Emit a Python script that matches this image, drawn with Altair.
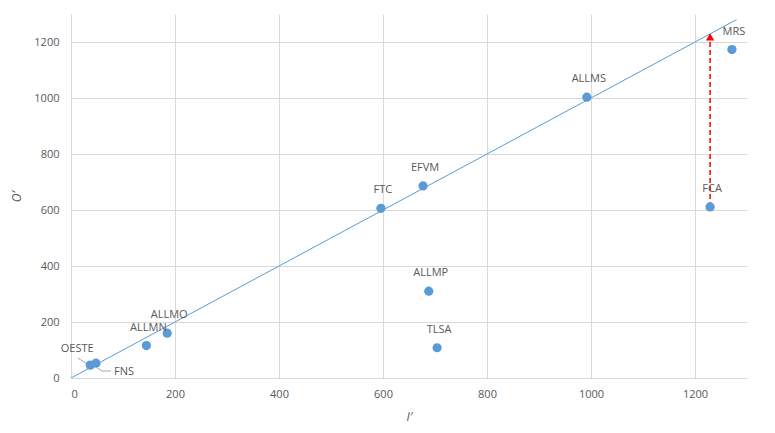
import altair as alt
import pandas as pd

names = ["OESTE", "FNS", "ALLMN", "ALLMO", "FTC", "EFVM", "ALLMP", "TLSA", "ALLMS", "FCA", "MRS"]
i_vals = [37, 48, 145, 185, 596, 677, 688, 704, 992, 1229, 1271]
o_vals = [46, 53, 116, 160, 606, 686, 310, 108, 1003, 611, 1173]

diag = [0, 1280]
arrow_x = [1229]
arrow_from = [611]
arrow_to = [1200]
arrow_tip = [1218]

FONT = "Open Sans"
BLUE = "#5b9bd5"
TXT = "#595959"

df = pd.DataFrame({"name": names, "i": i_vals, "o": o_vals})
main = df[~df["name"].isin(["OESTE", "FNS"])]
df_oeste = df[df["name"] == "OESTE"]
df_fns = df[df["name"] == "FNS"]
df_diag = pd.DataFrame({"i": diag, "o": diag})
df_arrow = pd.DataFrame({"i": arrow_x, "o": arrow_from, "o2": arrow_to, "tip": arrow_tip})

xs = alt.Scale(domain=[0, 1300], nice=False, zero=False)
ys = alt.Scale(domain=[0, 1300], nice=False, zero=False)

xax = alt.Axis(values=[0, 200, 400, 600, 800, 1000, 1200], title="I′", ticks=False, format="d",
               labelPadding=10, titlePadding=12, domainColor="#d9d9d9", gridColor="#d9d9d9")
yax = alt.Axis(values=[0, 200, 400, 600, 800, 1000, 1200], title="O′", ticks=False, format="d",
               labelPadding=12, titlePadding=10, domainColor="#d9d9d9", gridColor="#d9d9d9")

base = alt.Chart(df)

line = alt.Chart(df_diag).mark_line(color=BLUE, strokeWidth=1, clip=True).encode(
    x=alt.X("i:Q", scale=xs, axis=xax),
    y=alt.Y("o:Q", scale=ys, axis=yax),
)

arrow_line = alt.Chart(df_arrow).mark_rule(color="#ff0000", strokeDash=[5, 3], strokeWidth=1.5).encode(
    x=alt.X("i:Q", scale=xs), y=alt.Y("o:Q", scale=ys), y2="o2:Q"
)
arrow_head = alt.Chart(df_arrow).mark_point(shape="triangle-up", filled=True, color="#ff0000",
                                            size=70, opacity=1).encode(
    x=alt.X("i:Q", scale=xs), y=alt.Y("tip:Q", scale=ys)
)

pts = base.mark_circle(color=BLUE, size=85, opacity=1).encode(
    x=alt.X("i:Q", scale=xs), y=alt.Y("o:Q", scale=ys)
)

labels = alt.Chart(main).mark_text(font=FONT, fontSize=11, color=TXT, dy=-18, dx=2).encode(
    x=alt.X("i:Q", scale=xs), y=alt.Y("o:Q", scale=ys), text="name:N"
)
lab_oeste = alt.Chart(df_oeste).mark_text(font=FONT, fontSize=11, color=TXT, dx=-13, dy=-16).encode(
    x=alt.X("i:Q", scale=xs), y=alt.Y("o:Q", scale=ys), text="name:N"
)
lab_fns = alt.Chart(df_fns).mark_text(font=FONT, fontSize=11, color=TXT, dx=18, dy=9, align="left").encode(
    x=alt.X("i:Q", scale=xs), y=alt.Y("o:Q", scale=ys), text="name:N"
)

# leader lines
lead_oeste = pd.DataFrame({"i": [13, 36], "o": [71, 46]})
lead_fns = pd.DataFrame({"i": [50, 60, 77], "o": [36, 25, 25]})
ll1 = alt.Chart(lead_oeste).mark_line(color="#a6a6a6", strokeWidth=1).encode(
    x=alt.X("i:Q", scale=xs), y=alt.Y("o:Q", scale=ys))
ll2 = alt.Chart(lead_fns).mark_line(color="#a6a6a6", strokeWidth=1).encode(
    x=alt.X("i:Q", scale=xs), y=alt.Y("o:Q", scale=ys), order=alt.Order("i:Q"))

chart = alt.layer(line, arrow_line, arrow_head, ll1, ll2, pts, labels, lab_oeste, lab_fns).properties(
    width=676, height=364,
    autosize=alt.AutoSizeParams(type="none"),
    padding={"left": 63, "top": 6, "right": 20, "bottom": 50},
).configure_view(stroke=None).configure_axis(
    labelFont=FONT, labelFontSize=11, labelColor=TXT,
    titleFont=FONT, titleFontSize=12, titleColor=TXT, titleFontStyle="italic", titleFontWeight="normal",
    gridColor="#d9d9d9",
).configure_axisY(titleAngle=-90)

chart.save("out.html", embed_options={"renderer": "svg", "actions": False})
